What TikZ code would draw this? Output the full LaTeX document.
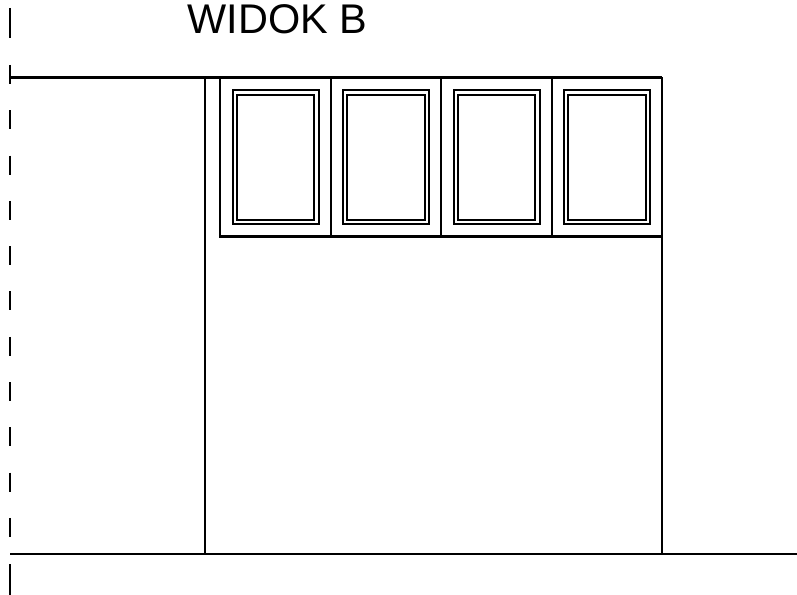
\documentclass[tikz,border=0pt]{standalone}
\usepackage{fontspec}
\setmainfont{Liberation Sans}
\tikzset{
  heavy/.style={line width=1.6pt,black,line cap=butt},
  frameline/.style={line width=1.5pt,black,line join=miter},
  axisline/.style={line width=1.6pt,black},
  titletext/.style={inner sep=0pt,anchor=base west,font=\fontsize{31.1pt}{34pt}\selectfont}
}
\begin{document}
\begin{tikzpicture}[x=0.75pt,y=-0.75pt]
\useasboundingbox (0,0) rectangle (797,595);
\fill[white] (0,0) rectangle (797,595);
% title
\node[titletext] (title) at (187.5,33.6) {WIDOK B};
% axis dashes
\draw[axisline] (10,8) -- (10,38);
\foreach \i in {0,...,10}{
  \pgfmathsetmacro{\ya}{65+45.3*\i}
  \pgfmathsetmacro{\yb}{\ya+19}
  \draw[axisline] (10,\ya) -- (10,\yb);
}
\draw[axisline] (10,564) -- (10,595);
% top and ground lines
\draw[heavy] (10,77.5) -- (662,77.5);
\draw[heavy] (10,554) -- (797,554);
% walls
\draw[heavy] (205,77.5) -- (205,554);
\draw[heavy] (662,77.5) -- (662,554);
% windows
\draw[heavy] (220,77.5) -- (220,236.5) -- (662,236.5);
\foreach \x in {331,441,552}{\draw[heavy] (\x,77.5) -- (\x,236.5);}
\foreach \l/\r in {232.5/318.5,343/429,453.5/539.5,563.5/650}{
  \draw[frameline] (\l,90) rectangle (\r,224.5);
  \draw[frameline] (\l+4.3,94.7) rectangle (\r-4.2,220);
}
\end{tikzpicture}
\end{document}
